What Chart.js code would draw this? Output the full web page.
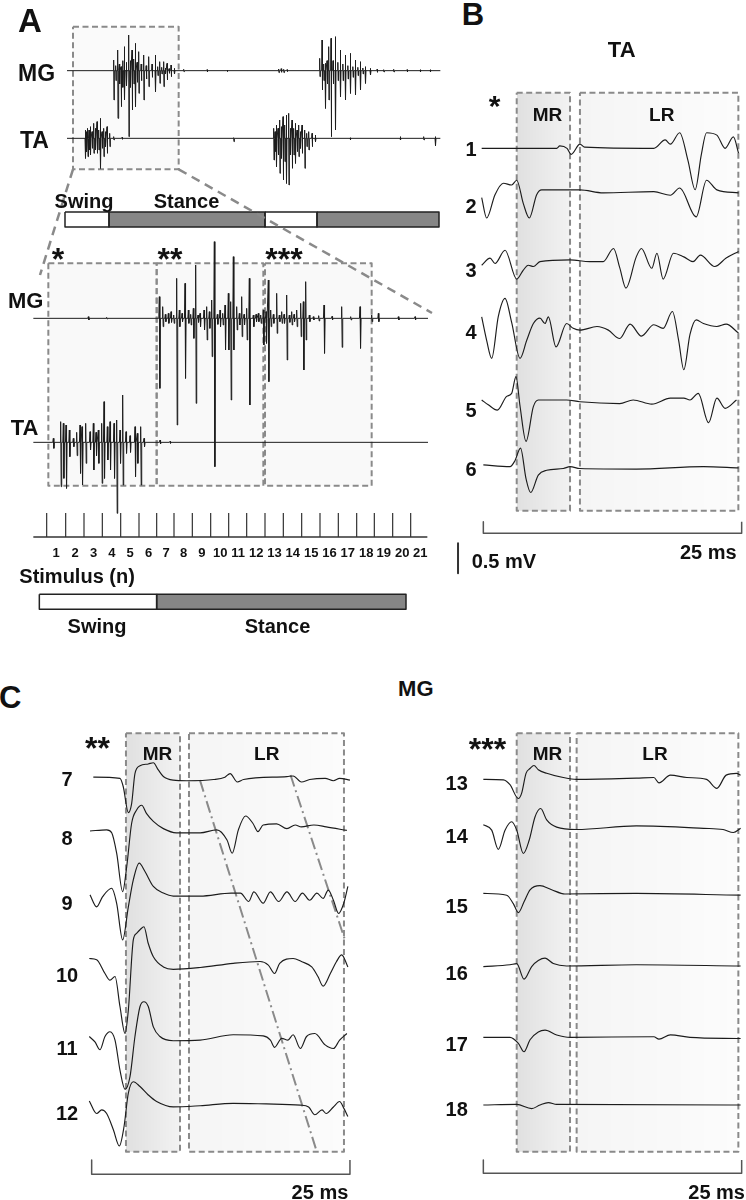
<!DOCTYPE html>
<html lang="en">
<head>
<meta charset="UTF-8">
<title>TA and MG reflex responses across the step cycle</title>
<script src="https://cdn.jsdelivr.net/npm/chart.js"></script>
<style>
  body { margin: 0; background: #fff; }
  #fig { position: relative; width: 746px; height: 1200px; overflow: hidden;
         font-family: "Liberation Sans", Arial, sans-serif; font-weight: bold; color: #111; }
  #fig canvas { position: absolute; }
  .lbl { position: absolute; line-height: 1; white-space: nowrap; }
</style>
</head>
<body>
<div id="fig">
  <canvas id="chartA" width="450" height="640" style="left:0px;top:0px"></canvas>
  <canvas id="chartB" width="306" height="530" style="left:440px;top:60px"></canvas>
  <canvas id="chartC1" width="330" height="500" style="left:40px;top:700px"></canvas>
  <canvas id="chartC2" width="306" height="500" style="left:440px;top:700px"></canvas>
</div>
<script>
// ---------- panel A: raw EMG over two step cycles (time ms, amplitude mV) ----------
const rawWindow = [0, 2240];
// [time, positive peak, negative peak]
const mgSpikesRaw = [
  [280,0.32,-0.88],[292,0.15,-0.3],[304,0.62,-1.43],[314,0.2,-0.4],[324,0.12,-1.08],[334,0.3,-0.5],
  [344,0.72,-0.88],[356,0.25,-0.45],[370,1.07,-1.98],[380,0.3,-0.5],[390,0.62,-1.18],[400,0.35,-0.4],
  [410,0.82,-1.08],[420,0.25,-0.35],[430,0.57,-0.68],[445,0.2,-0.3],[460,0.47,-0.88],[475,0.15,-0.25],
  [490,0.42,-0.48],[510,0.2,-0.2],[530,0.47,-0.63],[544,0.12,-0.15],[556,0.27,-0.38],[568,0.1,-0.1],
  [580,0.27,-0.48],[590,0.08,-0.1],[600,0.22,-0.28],[612,0.06,-0.08],[624,0.17,-0.18],[644,0.07,-0.1],
  [700,0.04,-0.03],[840,0.03,-0.04],[960,0.02,-0.03],
  [1270,0.05,-0.06],[1285,0.06,-0.05],[1300,0.04,-0.06],[1320,0.03,-0.03],
  [1516,0.37,-0.18],[1530,0.92,-0.58],[1540,0.2,-0.3],[1550,0.22,-1.13],[1560,0.3,-0.4],[1570,0.72,-0.88],
  [1584,0.97,-1.98],[1596,0.3,-0.4],[1610,1.02,-1.78],[1625,0.25,-0.3],[1640,0.62,-0.78],[1655,0.2,-0.3],
  [1670,0.47,-0.88],[1685,0.15,-0.25],[1700,0.52,-0.68],[1715,0.12,-0.2],[1730,0.32,-0.73],[1745,0.1,-0.15],
  [1760,0.27,-0.58],[1775,0.08,-0.1],[1790,0.12,-0.38],[1820,0.07,-0.13],[1860,0.04,-0.05],[1900,0.03,-0.04],
  [1960,0.04,-0.04],[2040,0.03,-0.04],[2120,0.03,-0.03],[2180,0.03,-0.03]
];
const taSpikesRaw = [
  [110,0.25,-0.6],[117,0.2,-0.4],[124,0.3,-0.55],[132,0.25,-0.35],[140,0.35,-0.5],[150,0.2,-0.3],
  [160,0.45,-0.45],[170,0.3,-0.35],[180,0.5,-0.45],[190,0.25,-0.35],[200,0.6,-0.9],[210,0.2,-0.3],
  [220,0.3,-0.55],[230,0.2,-0.25],[240,0.35,-0.45],[256,0.15,-0.25],[280,0.05,-0.05],[330,0.03,-0.03],
  [1000,0.02,-0.1],
  [1240,0.3,-0.65],[1248,0.2,-0.4],[1256,0.4,-0.85],[1266,0.3,-0.5],[1276,0.55,-1.05],[1286,0.35,-0.6],
  [1296,0.65,-1.25],[1306,0.4,-0.7],[1316,0.7,-1.35],[1330,0.75,-1.4],[1340,0.3,-0.5],[1350,0.55,-0.9],
  [1360,0.3,-0.5],[1370,0.45,-0.75],[1380,0.25,-0.4],[1390,0.4,-0.55],[1400,0.2,-0.3],[1410,0.4,-0.45],
  [1426,0.25,-0.9],[1438,0.15,-0.25],[1450,0.2,-0.35],[1470,0.15,-0.25],[1490,0.1,-0.1],
  [1700,0.02,-0.04],[2000,0.05,-0.05],[2140,0.05,-0.05],[2210,0.05,-0.22]
];
const rawPhases = [['swing', -12, 252], ['stance', 252, 1188], ['swing', 1188, 1500], ['stance', 1500, 2232]];
const rawSelection = [36, 670];

// ---------- panel A: expanded section, 21 stimuli ----------
const zoomWindow = [-20, 572];
const mgSpikesZoom = [
  [62.5,0.05,-0.05],[90,0.03,-0.02],[169,0.65,-2.1],[174,0.35,-0.25],[178,0.12,-0.1],[182.5,0.15,-0.15],
  [186.5,0.2,-0.12],[190.5,0.1,-0.15],[195,1.2,-3.2],[199,0.25,-0.25],[203,0.15,-0.1],[207.5,1.05,-1.8],
  [212.5,0.25,-0.15],[216,0.12,-0.2],[220,0.3,-0.6],[223.5,1.6,-2.55],[227,0.1,-0.12],[230,0.15,-0.25],
  [236,0.25,-0.35],[240,0.35,-0.65],[244,0.2,-0.3],[247.5,0.55,-1.15],[251.5,2.3,-4.45],[256,0.12,-0.18],
  [260,0.25,-0.25],[264,0.15,-0.2],[267.5,0.4,-0.95],[272.5,0.75,-0.95],[276,0.5,-2.45],[280,1.85,-0.95],
  [285,0.35,-0.35],[289,0.15,-0.2],[292.5,0.65,-0.55],[296,0.12,-0.2],[300,0.3,-0.65],[304,1.2,-2.6],
  [310,0.1,-0.25],[314,0.12,-0.1],[317.5,0.15,-0.1],[321,0.1,-0.15],[325,0.25,-0.8],[329,0.2,-0.75],
  [332.5,1.15,-1.9],[336,0.25,-0.25],[340,0.12,-0.15],[345,0.75,-0.45],[349,0.1,-0.1],[352.5,0.2,-0.15],
  [356,0.12,-0.15],[360,0.7,-1.25],[364,0.1,-0.12],[367.5,0.2,-0.2],[371,0.12,-0.1],[375,0.25,-0.25],
  [381,0.45,-0.55],[385,0.5,-1.55],[388.5,1.1,-0.65],[394,0.1,-0.1],[400,0.05,-0.05],[408,0.08,-0.08],
  [416,0.4,-1.05],[428,0.06,-0.05],[442.5,0.35,-0.87],[456,0.05,-0.05],[470,0.35,-0.9],[487.5,0.1,-0.1],
  [497.5,0.15,-0.1],[527.5,0.05,-0.05],[552.5,0.05,-0.05]
];
const taSpikesZoom = [
  [10,0.12,-0.18],[21,0.62,-1.33],[25,0.57,-1.08],[29,0.52,-1.38],[34,0.37,-0.43],[40,0.12,-0.13],
  [45,0.3,-0.4],[50,0.52,-0.93],[53,0.47,-1.28],[58.5,0.57,-0.63],[65,0.32,-0.23],[70,0.57,-0.83],
  [74,0.3,-0.4],[77.5,0.37,-0.63],[82.5,0.57,-1.23],[86,1.22,-1.08],[91,0.47,-0.53],[95,0.62,-0.83],
  [101,0.57,-1.08],[105,0.67,-2.13],[110,0.37,-0.63],[114,1.42,-1.28],[119,0.32,-0.33],[125,0.2,-0.3],
  [132.5,0.47,-1.03],[136,0.27,-0.63],[141,0.47,-1.28],[146,0.12,-0.13],[170,0.07,-0.05],[185,0.03,-0.03]
];
const stimTimes = [0, 28.5, 56, 83.5, 111, 138.5, 165, 191, 218.5, 246, 273, 300, 327.5, 355, 382.5, 410, 437.5, 465, 491.5, 519, 546];
const stimLabels = ['1','2','3','4','5','6','7','8','9','10','11','12','13','14','15','16','17','18','19','20','21'];
const sweepGroups = [[2.5, 165], [165, 325], [327.5, 487.5]];
const zoomPhases = [['swing', -11, 165], ['stance', 165, 539]];

// ---------- panel B: TA sweeps 1-6 (ms after stimulus, mV) ----------
const taSweeps = [
  [[-0.16,0],[7.1,0],[7.4,0.04],[8.1,0],[8.5,-0.1],[9.35,0.07],[9.8,0.02],[16.5,0],[17.6,0.14],[18.1,0.07],
   [19.0,0.26],[19.8,-0.2],[20.5,-0.69],[21.1,-0.1],[21.6,0.26],[22.6,0.22],[23.4,0],[24.2,0.19],[24.7,-0.08]],
  [[-0.16,-0.1],[0.32,-0.44],[1.13,-0.05],[1.94,0.14],[2.74,0.11],[3.23,0.19],[3.87,-0.2],[4.45,-0.44],
   [5.16,-0.05],[5.65,0.03],[6.45,0.03],[9.35,0.03],[11.6,-0.02],[16.5,0],[18.1,-0.06],[19.0,0.06],
   [20.6,-0.42],[21.6,0.19],[22.6,0.03],[24.7,-0.02]],
  [[-0.16,-0.06],[0.65,0.06],[1.13,-0.03],[2.1,0.19],[3.23,-0.29],[3.87,-0.14],[4.35,-0.06],[4.84,-0.08],
   [5.48,0],[8.39,0.03],[10.3,0],[11.6,0],[12.6,0.22],[13.2,-0.1],[13.8,-0.44],[14.8,0.08],[15.3,0.22],
   [16.3,-0.11],[16.8,0.14],[17.4,-0.29],[18.4,0.14],[19.4,0.08],[20.3,0],[21.0,0.11],[22.4,-0.08],
   [23.5,0.06],[24.7,0.17]],
  [[-0.16,0.19],[0.32,-0.2],[0.81,-0.5],[1.45,0.2],[2.1,0.5],[2.74,0.1],[3.55,-0.5],[4.2,-0.2],[4.84,0.08],
   [5.48,0.17],[5.97,0.08],[6.29,0.19],[7.03,-0.31],[8.06,0.08],[8.7,0],[9.35,-0.03],[11.0,0.03],[12.1,-0.03],
   [13.2,-0.17],[14.2,0.07],[15.3,-0.13],[16.5,0.06],[17.4,0],[18.3,0.28],[18.9,-0.2],[19.4,-0.69],
   [20.0,-0.1],[20.6,0.14],[21.3,0.08],[22.6,0.03],[23.5,0.07],[24.7,-0.08]],
  [[-0.16,0],[0.48,-0.08],[1.35,-0.17],[2.26,0.06],[2.74,0.11],[3.16,0.39],[3.55,-0.1],[4.13,-0.69],
   [4.84,-0.11],[5.32,0],[8.06,0],[9.35,-0.03],[13.2,-0.06],[14.5,0],[16.3,-0.07],[18.1,0.03],[19.4,0.03],
   [20.0,0],[20.8,0.11],[21.8,-0.38],[22.6,0.03],[23.4,-0.14],[24.5,0]],
  [[0,0.03],[2.58,0],[3.06,0.1],[3.6,0.31],[4.13,-0.2],[4.58,-0.43],[5.32,-0.14],[6.13,-0.06],[7.74,-0.03],
   [8.39,0],[9.35,-0.03],[14.8,-0.04],[21.3,0],[24.7,-0.02]]
];
const taSweepLabels = ['1', '2', '3', '4', '5', '6'];
const taWindows = { mr: [3.23, 8.39], lr: [9.35, 24.68] };

// ---------- panel C: MG sweeps 7-12 and 13-18 ----------
const mgSweepsEarly = [
  [[0.16,0.02],[2.74,0],[3.06,-0.14],[3.55,-0.57],[3.87,-0.42],[4.19,0.08],[4.68,0.21],[5.48,0.24],[5.97,0.26],
   [6.45,0.14],[6.94,0.03],[7.9,-0.03],[9.2,-0.04],[11.8,-0.02],[12.9,0.02],[13.4,0.08],[14.1,-0.06],[14.7,-0.02],
   [18.9,0.03],[19.5,0.04],[20.3,-0.06],[21.1,-0.02],[22.6,0],[23.4,-0.04],[24.0,0],[25.0,-0.03]],
  [[-0.16,0],[1.45,0.02],[1.94,-0.03],[2.42,-0.37],[3.0,-1.01],[3.39,-0.6],[3.87,0.13],[4.35,0.35],[4.84,0.43],
   [5.32,0.29],[5.97,0.16],[6.94,0.04],[8.2,-0.03],[10.5,-0.03],[12.1,0.02],[13.1,-0.15],[13.6,-0.37],
   [14.2,0.02],[14.9,0.25],[15.6,0.13],[16.1,-0.01],[16.6,0.1],[17.9,0.12],[18.9,0.04],[19.7,0.1],[20.3,0.07],
   [21.5,0.1],[22.7,0.07],[24.7,0.01]],
  [[-0.16,0.03],[0.48,-0.17],[1.06,0],[1.94,0.14],[2.42,-0.11],[3.0,-0.72],[3.55,-0.17],[4.03,0.28],[4.6,0.56],
   [5.16,0.42],[5.97,0.17],[6.94,0.06],[7.9,0.01],[10.5,0.01],[13.5,0.06],[14.4,0.06],[15.2,-0.08],[15.7,0.08],
   [16.6,-0.11],[17.3,0.08],[18.1,-0.08],[18.9,0.08],[19.7,-0.08],[20.4,0.06],[21.1,-0.06],[21.8,0.06],
   [22.4,-0.03],[22.9,0.11],[23.4,-0.06],[23.9,-0.28],[24.4,-0.11],[24.8,0.17]],
  [[-0.23,0.08],[0.48,0.06],[1.29,-0.17],[1.77,-0.28],[2.26,-0.22],[2.74,-0.72],[3.23,-1.17],[3.55,-0.78],
   [4.03,0.39],[4.35,0.5],[4.68,0.56],[5.06,0.61],[5.48,0.33],[5.97,0.11],[6.94,-0.06],[7.9,-0.1],[10.5,-0.07],
   [13.7,0],[16.3,0.03],[17.1,-0.03],[17.7,-0.17],[18.2,0],[19.5,0.08],[20.3,0.03],[21.3,-0.06],[21.9,-0.22],
   [22.4,-0.38],[23.1,-0.17],[23.7,0.03],[24.2,0.14],[24.8,-0.06]],
  [[-0.23,0.03],[0.32,-0.06],[0.81,-0.19],[1.29,0.03],[1.77,0.11],[2.26,-0.03],[2.74,-0.53],[3.23,-0.85],
   [3.71,-0.64],[4.19,0.03],[4.68,0.53],[5.06,0.61],[5.48,0.53],[5.97,0.19],[6.61,0.03],[7.9,-0.04],[10.5,-0.03],
   [13.7,0.06],[16.6,0.04],[17.3,-0.03],[17.7,-0.15],[18.4,0],[19.0,-0.03],[19.5,0.06],[20.2,-0.17],[20.8,0.03],
   [21.6,0.08],[22.6,-0.11],[23.4,-0.17],[24.0,-0.03],[24.7,0.08]],
  [[-0.23,0.04],[0.48,-0.17],[0.97,-0.11],[1.45,-0.17],[2.1,-0.44],[2.68,-0.71],[3.13,-0.39],[3.55,0.17],
   [4.03,0.36],[4.68,0.28],[5.48,0.14],[6.29,0.03],[7.9,-0.06],[10.5,-0.04],[13.7,0],[16.9,-0.01],[20.2,-0.03],
   [21.0,-0.06],[21.6,-0.19],[22.3,-0.11],[22.7,-0.17],[23.4,-0.06],[24.0,0.03],[24.4,-0.08],[24.8,-0.22]]
];
const mgSweepsLate = [
  [[0,0],[1.94,-0.01],[2.58,-0.09],[3.39,-0.32],[3.71,-0.23],[4.13,0.1],[4.52,0.18],[4.9,0.23],[5.32,0.16],
   [6.13,0.1],[7.74,0.03],[9.0,0],[14.8,0.02],[16.5,0.03],[17.0,-0.06],[18.1,0.07],[19.7,0.03],[21.6,0],
   [22.6,-0.15],[23.5,0.07],[24.5,0.1],[24.9,0.07]],
  [[0,0.06],[0.81,-0.03],[1.45,-0.35],[2.1,-0.03],[2.74,0.11],[3.23,-0.03],[3.87,-0.42],[4.45,-0.19],[5.0,0.19],
   [5.55,0.33],[6.13,0.14],[7.1,0.02],[9.0,-0.02],[14.8,0.04],[21.3,0],[23.2,-0.02],[24.2,-0.07],[24.9,0]],
  [[0,0.01],[2.26,-0.02],[2.9,-0.16],[3.39,-0.31],[3.94,-0.13],[4.52,0.07],[5.48,0.14],[6.61,0.07],[7.9,0],
   [14.8,0.01],[24.9,-0.02]],
  [[0,-0.01],[2.58,0.02],[3.23,0.04],[3.94,-0.22],[4.68,-0.01],[5.32,0.09],[5.97,0.13],[6.77,0.04],[8.06,0],
   [14.8,0.02],[24.9,0]],
  [[0,0],[2.58,0],[3.39,-0.1],[3.94,-0.24],[4.52,-0.04],[5.32,0.09],[5.97,0.12],[7.1,0.04],[8.4,0],[16.5,0.01],
   [17.0,-0.03],[18.1,0.04],[20.0,0],[24.9,-0.02]],
  [[0,0],[3.23,0.01],[4.68,-0.06],[5.48,0],[6.29,0.04],[7.1,0.01],[24.9,0]]
];
const mgLabelsEarly = ['7', '8', '9', '10', '11', '12'];
const mgLabelsLate = ['13', '14', '15', '16', '17', '18'];
const mgWindowsEarly = { mr: [3.32, 8.55], lr: [9.42, 24.42] };
const mgWindowsLate = { mr: [3.23, 8.39], lr: [9.03, 24.68] };
// latency drift guides drawn across sweeps 7-12 (ms, mV)
const latencyGuides = [[[10.48, -0.03], [21.79, -6.222]], [[19.25, 0.055], [24.52, -2.695]]];

// ---------- layout (axis ranges chosen so each canvas matches the figure) ----------
const A = { x: [-402, 2298], y: [-17.08, 2.12], x2: [-70, 605], y2: [-9.65, 9.55] };
const rawOffsets = [0, -2.03];
const zoomOffsets = [0, -3.72];
const taOffsets = [0, -0.722, -1.889, -3.0, -4.194, -5.306];
const mgOffsetsEarly = [0, -0.878, -1.972, -3.083, -4.333, -5.417];
const mgOffsetsLate = [0, -0.817, -1.911, -3.111, -4.3, -5.428];

const INK = '#1c1c1c', DASH = '#8a8a8a', BAR = '#555';
const phaseFill = { swing: '#ffffff', stance: '#868686' };
const MR_SHADE = ['rgba(0,0,0,0.12)', 'rgba(0,0,0,0.05)'];
const LR_SHADE = ['rgba(0,0,0,0.04)', 'rgba(0,0,0,0.012)'];

function spikeLine(spikes, win, w, off) {
  const pts = [{ x: win[0], y: off }];
  spikes.forEach(([t, up, down]) => {
    pts.push({ x: t - w, y: off }, { x: t, y: off + up }, { x: t + w, y: off + down }, { x: t + 2 * w, y: off });
  });
  pts.push({ x: win[1], y: off });
  return pts;
}

const sweep = (pts, off) => pts.map(([x, y]) => ({ x, y: y + off }));

function trace(data, extra) {
  return Object.assign({ data, borderColor: INK, borderWidth: 1.15, pointRadius: 0, fill: false, order: 0,
    cubicInterpolationMode: 'monotone' }, extra);
}

function poly(data, color, width, dash, extra) {
  return Object.assign({ data, borderColor: color, borderWidth: width, borderDash: dash || [], pointRadius: 0,
    fill: false, order: 1 }, extra);
}

// left-to-right shading across a response window (chart area = whole canvas)
function shade(x0, x1, stops) {
  return c => {
    const ch = c.chart, o = ch.options.scales.x;
    const w = ch.width || ch.canvas.width;
    const px = v => (v - o.min) / (o.max - o.min) * w;
    const a = px(x0), b = px(x1);
    if (!isFinite(a) || !isFinite(b) || a === b) return stops[1];
    const g = ch.ctx.createLinearGradient(a, 0, b, 0);
    g.addColorStop(0, stops[0]);
    g.addColorStop(1, stops[1]);
    return g;
  };
}

function rect(x0, x1, y0, y1, fillColor, color, width, dash, ids) {
  return [
    Object.assign({ data: [{ x: x0, y: y1 }, { x: x1, y: y1 }], fill: { value: y0 }, backgroundColor: fillColor,
      borderWidth: 0, borderColor: 'rgba(0,0,0,0)', pointRadius: 0, order: 3 }, ids),
    poly([{ x: x0, y: y1 }, { x: x1, y: y1 }, { x: x1, y: y0 }, { x: x0, y: y0 }, { x: x0, y: y1 }],
      color, width, dash, Object.assign({ order: 2 }, ids))
  ];
}

function windowBoxes(win, y0, y1) {
  return [
    ...rect(win.mr[0], win.mr[1], y0, y1, shade(win.mr[0], win.mr[1], MR_SHADE), DASH, 2, [6, 3.5]),
    ...rect(win.lr[0], win.lr[1], y0, y1, shade(win.lr[0], win.lr[1], LR_SHADE), DASH, 2, [6, 3.5])
  ];
}

function options(scales) {
  return {
    responsive: false, animation: false, devicePixelRatio: 1, events: [],
    layout: { padding: 0 },
    plugins: { legend: { display: false }, tooltip: { enabled: false } },
    elements: { point: { radius: 0 }, line: { borderJoinStyle: 'round', tension: 0 } },
    scales
  };
}
const lin = r => ({ type: 'linear', display: false, min: r[0], max: r[1] });

// raw-panel coordinates expressed on the expanded-panel axes (both share the canvas)
function rawToZoom(t, a) {
  const fx = (t - A.x[0]) / (A.x[1] - A.x[0]);
  const fy = (a - A.y[0]) / (A.y[1] - A.y[0]);
  return { x: A.x2[0] + fx * (A.x2[1] - A.x2[0]), y: A.y2[0] + fy * (A.y2[1] - A.y2[0]) };
}

// ---------- chart A ----------
const Z = { xAxisID: 'x2', yAxisID: 'y2' };
const R = { xAxisID: 'x', yAxisID: 'y' };
const selTop = 1.32, selBottom = -2.96;
const boxTop = 1.65, boxBottom = -5.02;
const stimAxisY = -6.56, stimTickY = -5.84;
const spikeStyle = ids => Object.assign({ borderWidth: 1, cubicInterpolationMode: 'default' }, ids);
const dsA = [
  trace(spikeLine(mgSpikesRaw, rawWindow, 2, rawOffsets[0]), spikeStyle(R)),
  trace(spikeLine(taSpikesRaw, rawWindow, 2, rawOffsets[1]), spikeStyle(R)),
  ...rect(rawSelection[0], rawSelection[1], selBottom, selTop, 'rgba(0,0,0,0.02)', DASH, 2, [6, 3.5], R),
  ...rawPhases.flatMap(([ph, s, e]) => rect(s, e, -4.69, -4.24, phaseFill[ph], '#222', 1.5, [], R)),
  trace(spikeLine(mgSpikesZoom, zoomWindow, 0.8, zoomOffsets[0]), spikeStyle(Z)),
  trace(spikeLine(taSpikesZoom, zoomWindow, 0.8, zoomOffsets[1]), spikeStyle(Z)),
  ...sweepGroups.flatMap(([s, e]) => rect(s, e, boxBottom, boxTop, 'rgba(0,0,0,0.022)', DASH, 2, [6, 3.5], Z)),
  poly([{ x: -20, y: stimAxisY }, { x: 571, y: stimAxisY }], '#333', 1.5, [], Z),
  poly(stimTimes.flatMap(t => [{ x: t, y: stimAxisY }, { x: t, y: stimTickY }, { x: t, y: null }]), '#333', 1.2, [], Z),
  ...zoomPhases.flatMap(([ph, s, e]) => rect(s, e, -8.73, -8.28, phaseFill[ph], '#222', 1.5, [], Z)),
  poly([rawToZoom(rawSelection[0], selBottom), { x: -10, y: 1.3 }], DASH, 2.5, [9, 6], Z),
  poly([rawToZoom(rawSelection[1], selBottom), { x: 578, y: 0.16 }], DASH, 2.5, [9, 6], Z)
];
const chartA = new Chart(document.getElementById('chartA'), {
  type: 'line', data: { datasets: dsA },
  options: options({ x: lin(A.x), y: lin(A.y), x2: lin(A.x2), y2: lin(A.y2) })
});

// ---------- chart B ----------
const dsB = [
  ...taSweeps.map((s, i) => trace(sweep(s, taOffsets[i]))),
  ...windowBoxes(taWindows, -6.039, 0.928),
  poly([{ x: 0, y: -6.222 }, { x: 0, y: -6.417 }, { x: 25, y: -6.417 }, { x: 25, y: -6.222 }], BAR, 1.5),
  poly([{ x: -2.45, y: -6.583 }, { x: -2.45, y: -7.083 }], '#333', 2)
];
new Chart(document.getElementById('chartB'), {
  type: 'line', data: { datasets: dsB },
  options: options({ x: lin([-4.194, 25.42]), y: lin([-7.361, 1.472]) })
});

// ---------- chart C, sweeps 7-12 ----------
const dsC1 = [
  ...mgSweepsEarly.map((s, i) => trace(sweep(s, mgOffsetsEarly[i]))),
  ...windowBoxes(mgWindowsEarly, -6.222, 0.75),
  ...latencyGuides.map(g => poly(g.map(([x, y]) => ({ x, y })), DASH, 2, [12, 4, 2, 4])),
  poly([{ x: 0, y: -6.361 }, { x: 0, y: -6.6 }, { x: 25, y: -6.6 }, { x: 25, y: -6.361 }], BAR, 1.5)
];
new Chart(document.getElementById('chartC1'), {
  type: 'line', data: { datasets: dsC1 },
  options: options({ x: lin([-5.0, 26.94]), y: lin([-7.028, 1.306]) })
});

// ---------- chart C, sweeps 13-18 ----------
const dsC2 = [
  ...mgSweepsLate.map((s, i) => trace(sweep(s, mgOffsetsLate[i]))),
  ...windowBoxes(mgWindowsLate, -6.206, 0.767),
  poly([{ x: 0, y: -6.344 }, { x: 0, y: -6.567 }, { x: 25, y: -6.567 }, { x: 25, y: -6.344 }], BAR, 1.5)
];
new Chart(document.getElementById('chartC2'), {
  type: 'line', data: { datasets: dsC2 },
  options: options({ x: lin([-4.194, 25.42]), y: lin([-7.011, 1.322]) })
});

// ---------- text ----------
const fig = document.getElementById('fig');
function addText(txt, x, yc, size, align) {
  const d = document.createElement('div');
  d.className = 'lbl';
  d.textContent = txt;
  d.style.fontSize = size + 'px';
  d.style.left = x + 'px';
  d.style.top = (yc - 0.4885 * size) + 'px';
  if (align === 'center') d.style.transform = 'translateX(-50%)';
  if (align === 'right') d.style.transform = 'translateX(-100%)';
  fig.appendChild(d);
}
[
  ['A', 18, 20, 33, 'left'], ['MG', 18, 73.3, 23, 'left'], ['TA', 20, 140, 23, 'left'],
  ['Swing', 84, 200.5, 20, 'center'], ['Stance', 186.5, 200.5, 20, 'center'],
  ['MG', 43.5, 300.8, 22, 'right'], ['TA', 38.5, 427.5, 22, 'right'],
  ['Stimulus (n)', 19.3, 576, 20, 'left'], ['Swing', 97, 626, 20, 'center'], ['Stance', 277.5, 626, 20, 'center'],
  ['B', 461.7, 14, 31, 'left'], ['TA', 621.7, 50, 22, 'center'],
  ['MR', 547.5, 114.5, 19, 'center'], ['LR', 661.7, 114.5, 19, 'center'],
  ['25 ms', 736.7, 552, 20, 'right'], ['0.5 mV', 471.7, 561, 20, 'left'],
  ['C', -1, 697.5, 31, 'left'], ['MG', 415.8, 689, 22, 'center'],
  ['MR', 157.5, 753, 19, 'center'], ['LR', 266.7, 753, 19, 'center'], ['25 ms', 348.3, 1191.5, 20, 'right'],
  ['MR', 547.5, 753, 19, 'center'], ['LR', 655, 753, 19, 'center'], ['25 ms', 745, 1191.5, 20, 'right']
].forEach(t => addText(...t));

// asterisks: centre x, top of glyph, size
[['*', 58, 247, 32], ['**', 170, 247, 32], ['***', 284, 247, 32],
 ['*', 494.5, 95, 30], ['**', 97.5, 736, 32], ['***', 487.5, 736.7, 32]]
  .forEach(([t, x, top, s]) => addText(t, x, top + 0.358 * s, s, 'center'));

// sweep numbers
[149, 205.7, 270, 331.7, 410, 469].forEach((y, i) => addText(taSweepLabels[i], 471, y, 20, 'center'));
[779, 838, 903, 974.5, 1047.5, 1112.5].forEach((y, i) => addText(mgLabelsEarly[i], 67, y, 20, 'center'));
[782.5, 836, 906, 972.5, 1044, 1108.5].forEach((y, i) => addText(mgLabelsLate[i], 456.7, y, 20, 'center'));

// stimulus numbers sit just right of each tick
stimTimes.forEach((t, i) => addText(stimLabels[i], chartA.scales.x2.getPixelForValue(t) + 9.5, 552.5, 13, 'center'));
</script>
</body>
</html>
